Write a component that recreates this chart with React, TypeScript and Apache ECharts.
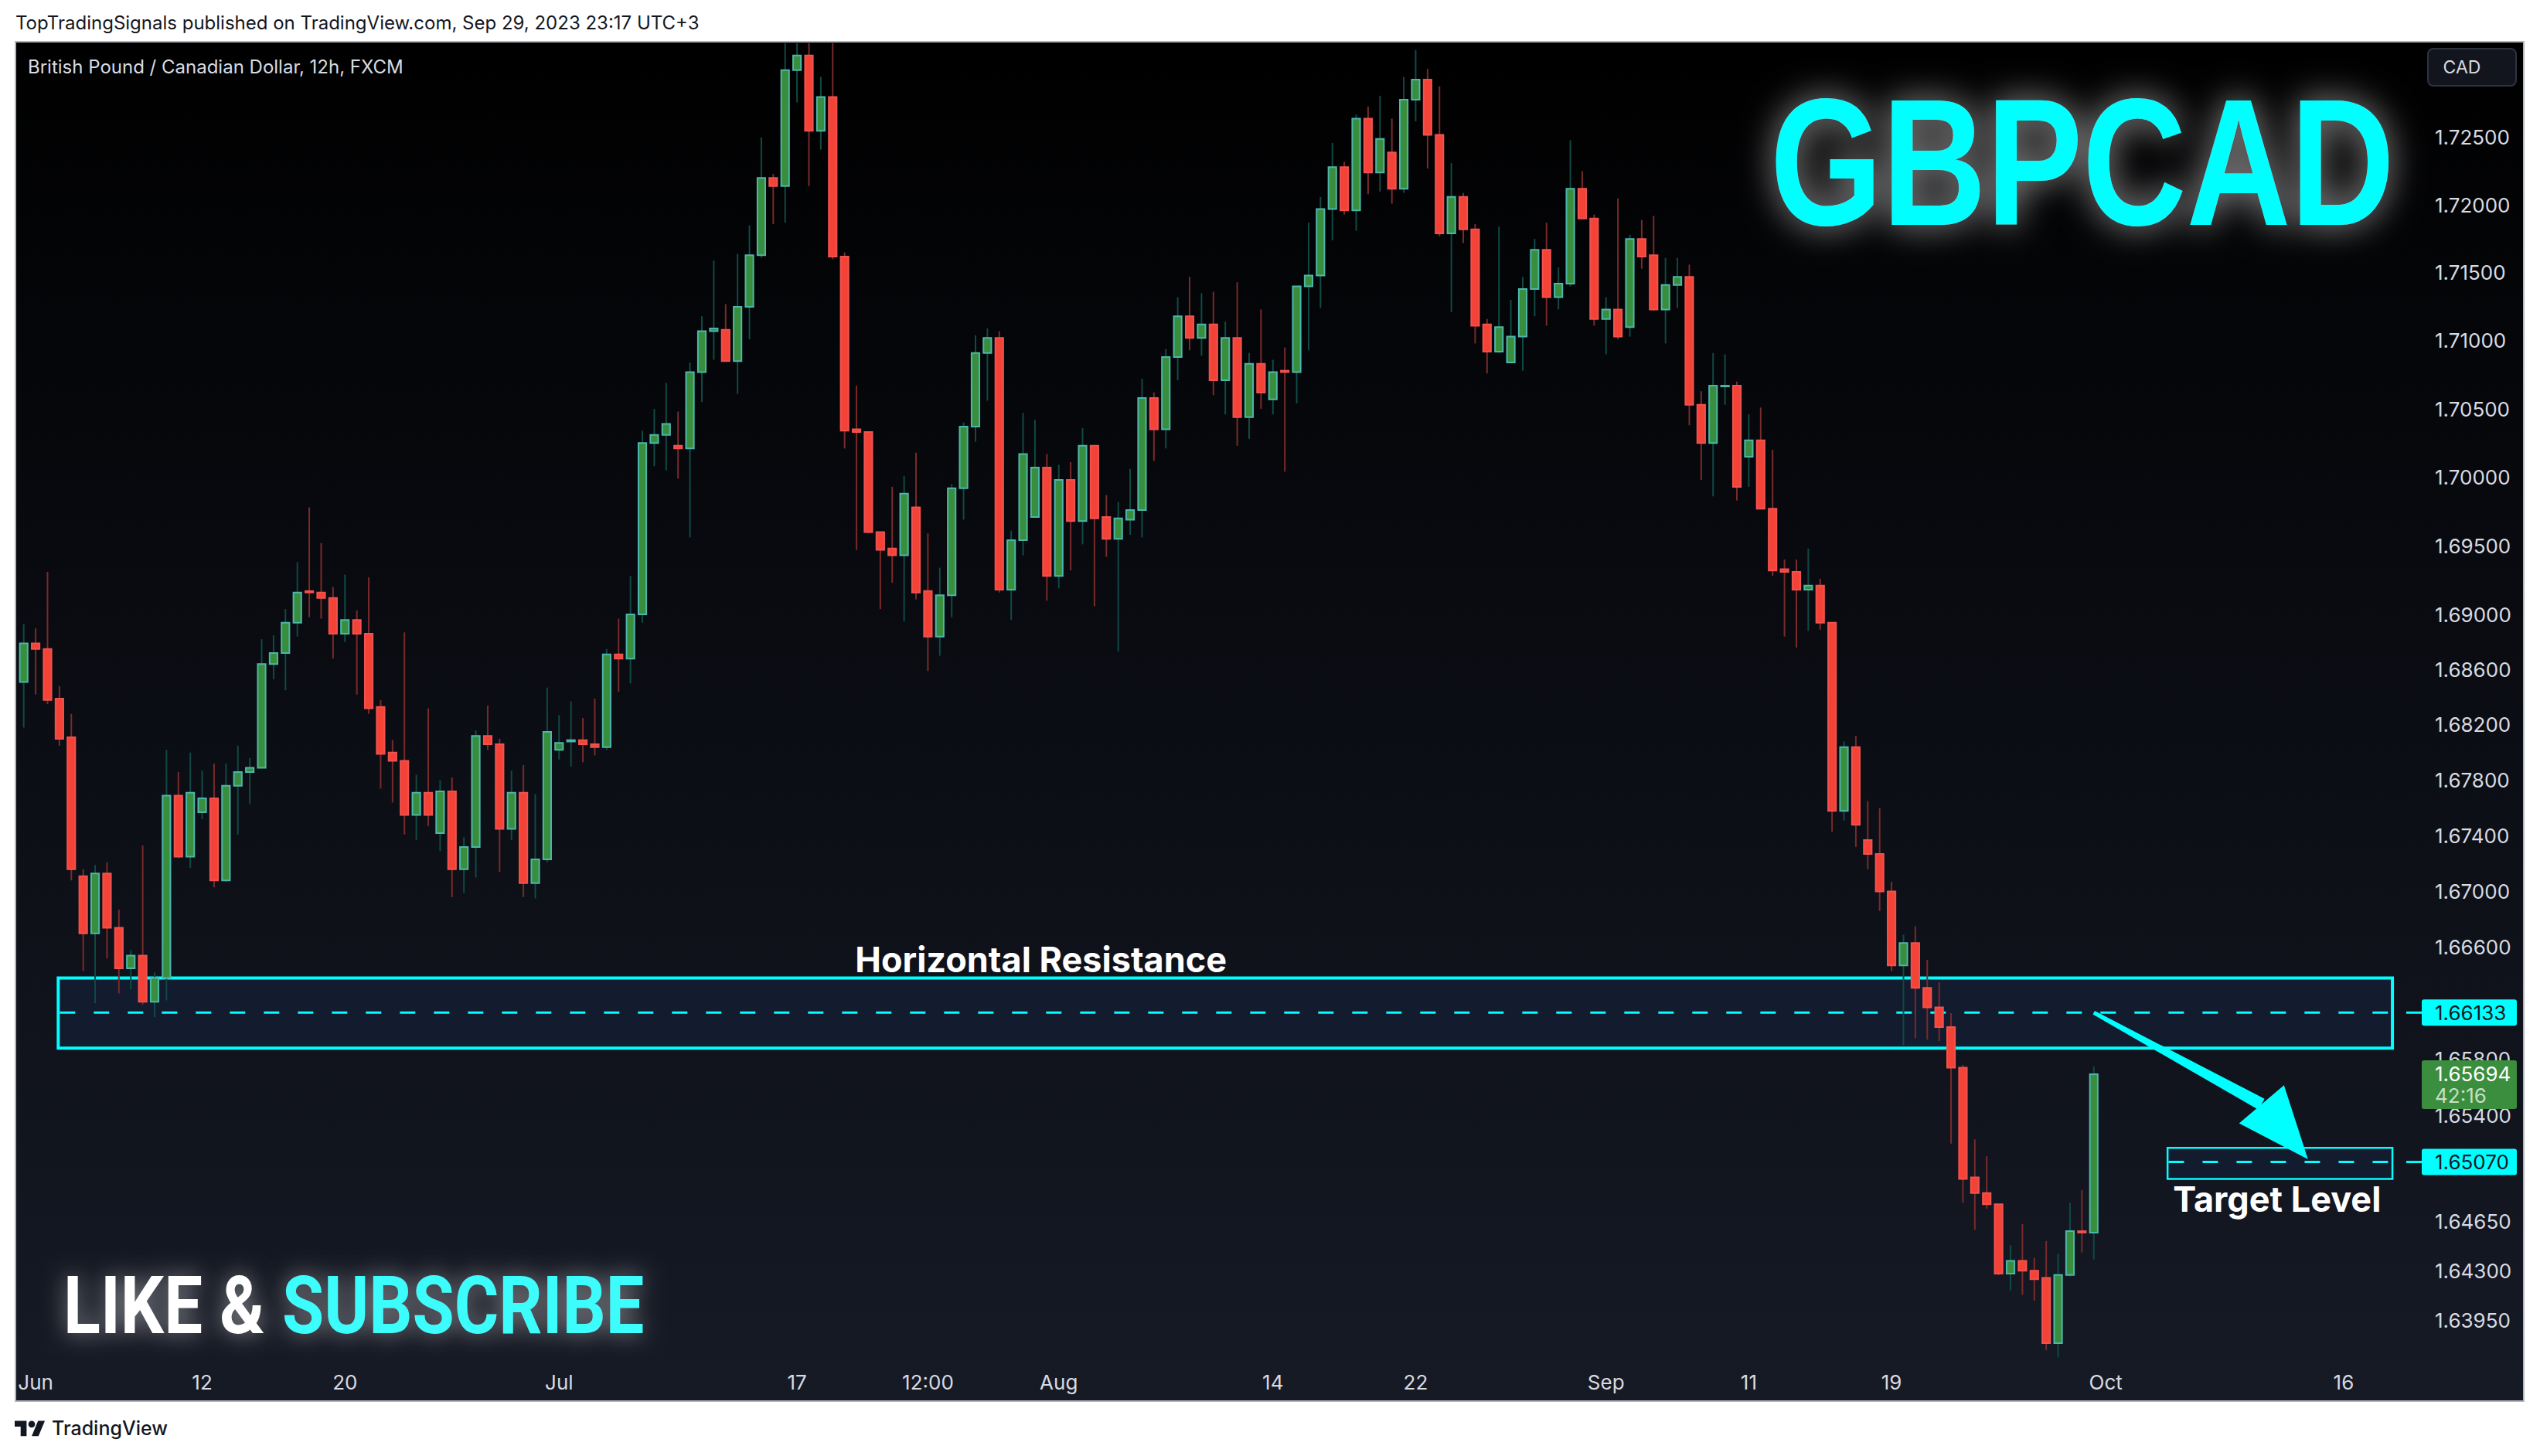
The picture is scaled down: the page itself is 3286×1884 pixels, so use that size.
import React, { useEffect, useRef } from 'react';
import * as echarts from 'echarts';

const W = 3286;
const H = 1884;

// ---- GBPCAD 12h candles, 2023-05-31 12:00 .. 2023-09-29 12:00 ----
const OPEN = [
  1.6851, 1.6879, 1.6875, 1.6839, 1.6811, 1.6711, 1.6670, 1.6713, 1.6674, 1.6645,
  1.6654, 1.6621, 1.6638, 1.6769, 1.6725, 1.6757, 1.6767, 1.6708, 1.6776, 1.6786,
  1.6789, 1.6864, 1.6872, 1.6894, 1.6917, 1.6916, 1.6912, 1.6886, 1.6896, 1.6886,
  1.6833, 1.6800, 1.6794, 1.6755, 1.6771, 1.6742, 1.6772, 1.6716, 1.6732, 1.6812,
  1.6806, 1.6745, 1.6771, 1.6706, 1.6723, 1.6802, 1.6808, 1.6809, 1.6806, 1.6804,
  1.6871, 1.6868, 1.6900, 1.7025, 1.7031, 1.7023, 1.7021, 1.7077, 1.7107, 1.7108,
  1.7085, 1.7125, 1.7163, 1.7220, 1.7214, 1.7300, 1.7311, 1.7255, 1.7280, 1.7162,
  1.7035, 1.7033, 1.6960, 1.6948, 1.6943, 1.6978, 1.6917, 1.6884, 1.6914, 1.6992,
  1.7037, 1.7091, 1.7102, 1.6918, 1.6954, 1.6971, 1.7007, 1.6928, 1.6998, 1.6968,
  1.7023, 1.6971, 1.6955, 1.6969, 1.6976, 1.7058, 1.7035, 1.7088, 1.7118, 1.7102,
  1.7112, 1.7071, 1.7102, 1.7044, 1.7083, 1.7057, 1.7078, 1.7077, 1.7140, 1.7148,
  1.7197, 1.7228, 1.7196, 1.7264, 1.7224, 1.7239, 1.7212, 1.7278, 1.7293, 1.7252,
  1.7179, 1.7206, 1.7182, 1.7112, 1.7092, 1.7084, 1.7103, 1.7138, 1.7167, 1.7132,
  1.7142, 1.7212, 1.7190, 1.7116, 1.7123, 1.7110, 1.7175, 1.7163, 1.7123, 1.7141,
  1.7147, 1.7053, 1.7025, 1.7067, 1.7067, 1.7015, 1.7027, 1.6977, 1.6933, 1.6931,
  1.6918, 1.6921, 1.6894, 1.6758, 1.6804, 1.6737, 1.6727, 1.6700, 1.6647, 1.6663,
  1.6631, 1.6617, 1.6603, 1.6574, 1.6496, 1.6485, 1.6477, 1.6428, 1.6437, 1.6430,
  1.6425, 1.6379, 1.6427, 1.6458, 1.6457,
];
const HIGH = [
  1.6893, 1.6890, 1.6931, 1.6848, 1.6828, 1.6716, 1.6719, 1.6721, 1.6687, 1.6658,
  1.6733, 1.6642, 1.6802, 1.6786, 1.6800, 1.6787, 1.6792, 1.6792, 1.6805, 1.6796,
  1.6882, 1.6885, 1.6904, 1.6938, 1.6978, 1.6952, 1.6920, 1.6929, 1.6903, 1.6927,
  1.6838, 1.6809, 1.6887, 1.6784, 1.6832, 1.6780, 1.6782, 1.6739, 1.6816, 1.6834,
  1.6810, 1.6787, 1.6791, 1.6770, 1.6847, 1.6827, 1.6837, 1.6825, 1.6839, 1.6875,
  1.6897, 1.6928, 1.7034, 1.7050, 1.7069, 1.7048, 1.7084, 1.7118, 1.7159, 1.7127,
  1.7164, 1.7185, 1.7250, 1.7223, 1.7322, 1.7335, 1.7320, 1.7295, 1.7330, 1.7165,
  1.7067, 1.7033, 1.6960, 1.6993, 1.7001, 1.7018, 1.6959, 1.6934, 1.6995, 1.7040,
  1.7104, 1.7109, 1.7107, 1.6961, 1.7047, 1.7042, 1.7017, 1.7009, 1.7011, 1.7036,
  1.7023, 1.6987, 1.6982, 1.7006, 1.7072, 1.7062, 1.7094, 1.7132, 1.7147, 1.7135,
  1.7136, 1.7114, 1.7143, 1.7091, 1.7123, 1.7086, 1.7095, 1.7140, 1.7187, 1.7206,
  1.7246, 1.7232, 1.7267, 1.7273, 1.7281, 1.7264, 1.7295, 1.7315, 1.7301, 1.7288,
  1.7231, 1.7209, 1.7186, 1.7116, 1.7184, 1.7130, 1.7147, 1.7175, 1.7187, 1.7154,
  1.7248, 1.7225, 1.7193, 1.7132, 1.7205, 1.7178, 1.7189, 1.7192, 1.7161, 1.7161,
  1.7156, 1.7063, 1.7091, 1.7090, 1.7070, 1.7046, 1.7051, 1.7020, 1.6940, 1.6940,
  1.6948, 1.6926, 1.6894, 1.6808, 1.6812, 1.6765, 1.6760, 1.6707, 1.6669, 1.6675,
  1.6651, 1.6635, 1.6613, 1.6576, 1.6523, 1.6511, 1.6477, 1.6448, 1.6463, 1.6439,
  1.6451, 1.6442, 1.6478, 1.6487, 1.6575,
];
const LOW = [
  1.6818, 1.6842, 1.6835, 1.6805, 1.6708, 1.6643, 1.6620, 1.6652, 1.6627, 1.6630,
  1.6619, 1.6610, 1.6622, 1.6724, 1.6717, 1.6752, 1.6703, 1.6707, 1.6741, 1.6763,
  1.6789, 1.6853, 1.6845, 1.6884, 1.6898, 1.6897, 1.6868, 1.6880, 1.6842, 1.6828,
  1.6774, 1.6764, 1.6741, 1.6737, 1.6747, 1.6729, 1.6696, 1.6699, 1.6710, 1.6802,
  1.6714, 1.6737, 1.6696, 1.6695, 1.6721, 1.6795, 1.6790, 1.6793, 1.6798, 1.6802,
  1.6844, 1.6850, 1.6894, 1.7008, 1.7005, 1.6999, 1.6956, 1.7055, 1.7086, 1.7085,
  1.7061, 1.7101, 1.7161, 1.7186, 1.7187, 1.7276, 1.7214, 1.7241, 1.7160, 1.7021,
  1.6947, 1.6959, 1.6904, 1.6923, 1.6895, 1.6911, 1.6859, 1.6870, 1.6898, 1.6969,
  1.7026, 1.7056, 1.6916, 1.6896, 1.6943, 1.6971, 1.6910, 1.6919, 1.6932, 1.6951,
  1.6906, 1.6942, 1.6873, 1.6958, 1.6956, 1.7012, 1.7021, 1.7071, 1.7093, 1.7089,
  1.7060, 1.7046, 1.7023, 1.7028, 1.7050, 1.7046, 1.7004, 1.7054, 1.7093, 1.7124,
  1.7174, 1.7193, 1.7181, 1.7208, 1.7210, 1.7201, 1.7209, 1.7262, 1.7227, 1.7177,
  1.7121, 1.7172, 1.7098, 1.7076, 1.7091, 1.7084, 1.7078, 1.7118, 1.7111, 1.7123,
  1.7140, 1.7190, 1.7111, 1.7090, 1.7101, 1.7103, 1.7153, 1.7122, 1.7098, 1.7124,
  1.7038, 1.6998, 1.6986, 1.7053, 1.6983, 1.6993, 1.6977, 1.6928, 1.6884, 1.6876,
  1.6888, 1.6889, 1.6743, 1.6751, 1.6732, 1.6716, 1.6686, 1.6643, 1.6590, 1.6595,
  1.6594, 1.6593, 1.6520, 1.6478, 1.6459, 1.6474, 1.6427, 1.6416, 1.6413, 1.6409,
  1.6374, 1.6369, 1.6426, 1.6443, 1.6438,
];
const CLOSE = [
  1.6879, 1.6875, 1.6838, 1.6810, 1.6716, 1.6670, 1.6713, 1.6674, 1.6645, 1.6654,
  1.6621, 1.6638, 1.6769, 1.6725, 1.6771, 1.6767, 1.6708, 1.6776, 1.6786, 1.6789,
  1.6864, 1.6872, 1.6894, 1.6916, 1.6916, 1.6912, 1.6886, 1.6896, 1.6886, 1.6832,
  1.6799, 1.6794, 1.6755, 1.6771, 1.6755, 1.6772, 1.6716, 1.6732, 1.6812, 1.6806,
  1.6745, 1.6771, 1.6706, 1.6723, 1.6815, 1.6807, 1.6809, 1.6806, 1.6804, 1.6871,
  1.6868, 1.6900, 1.7025, 1.7031, 1.7039, 1.7021, 1.7077, 1.7107, 1.7109, 1.7085,
  1.7125, 1.7163, 1.7220, 1.7214, 1.7300, 1.7311, 1.7255, 1.7280, 1.7162, 1.7034,
  1.7033, 1.6960, 1.6947, 1.6943, 1.6988, 1.6916, 1.6884, 1.6914, 1.6992, 1.7037,
  1.7091, 1.7102, 1.6918, 1.6954, 1.7017, 1.7007, 1.6928, 1.6998, 1.6968, 1.7023,
  1.6970, 1.6955, 1.6970, 1.6976, 1.7058, 1.7035, 1.7088, 1.7118, 1.7102, 1.7112,
  1.7071, 1.7102, 1.7044, 1.7083, 1.7062, 1.7077, 1.7077, 1.7140, 1.7148, 1.7197,
  1.7228, 1.7196, 1.7264, 1.7224, 1.7249, 1.7212, 1.7278, 1.7293, 1.7252, 1.7179,
  1.7206, 1.7182, 1.7111, 1.7092, 1.7110, 1.7103, 1.7138, 1.7167, 1.7132, 1.7142,
  1.7212, 1.7190, 1.7116, 1.7123, 1.7103, 1.7175, 1.7162, 1.7123, 1.7141, 1.7147,
  1.7053, 1.7025, 1.7067, 1.7067, 1.6993, 1.7027, 1.6977, 1.6932, 1.6931, 1.6918,
  1.6921, 1.6894, 1.6758, 1.6804, 1.6748, 1.6727, 1.6700, 1.6647, 1.6663, 1.6631,
  1.6617, 1.6603, 1.6574, 1.6495, 1.6485, 1.6477, 1.6428, 1.6437, 1.6430, 1.6424,
  1.6379, 1.6427, 1.6458, 1.6457, 1.65694,
];

// time axis
const FIRST_DAY = '2023-05-31';
const SLOT_COUNT = 201; // candle slots incl. empty future ones
const X_TICK_TIMES = [
  '2023-06-01 00:00', '2023-06-12 00:00', '2023-06-20 00:00', '2023-07-03 00:00',
  '2023-07-17 00:00', '2023-07-24 12:00', '2023-08-01 00:00', '2023-08-14 00:00',
  '2023-08-22 00:00', '2023-09-01 00:00', '2023-09-11 00:00', '2023-09-19 00:00',
  '2023-10-02 00:00', '2023-10-16 00:00',
];
const X_TICK_LABELS = ['Jun', '12', '20', 'Jul', '17', '12:00', 'Aug', '14', '22', 'Sep', '11', '19', 'Oct', '16'];

// price axis (log scale); 1.662 and 1.650 sit fully under the level tags
const Y_TICKS = [
  1.725, 1.72, 1.715, 1.71, 1.705, 1.7, 1.695, 1.69, 1.686, 1.682, 1.678,
  1.674, 1.67, 1.666, 1.658, 1.654, 1.6465, 1.643, 1.6395,
];
const Y_MIN_PRICE = 1.6367;
const Y_MAX_PRICE = 1.732;
const X_MIN = -0.5;
const X_MAX = 200.2;

// drawings (candle index, price)
const RESISTANCE_ZONE = [2.9, 199.1, 1.6588, 1.6638];
const RESISTANCE_LEVEL = 1.66133;
const TARGET_ZONE = [180.2, 199.1, 1.6495, 1.6517];
const TARGET_LEVEL = 1.6507;
const ARROW_POINTS = [[174.0, 1.66133], [188.1, 1.6548], [192.0, 1.6509]];
const RESISTANCE_TEXT_AT = 85.5;
const TARGET_TEXT_AT = 189.4;
const COUNTDOWN = '42:16';

// styles
const FONT = 'Inter, "Noto Sans", sans-serif';
const CYAN = '#00ffff';
const UP_FILL = '#388e3c';
const UP_BORDER = '#4db6ac';
const UP_WICK = '#0f4a45';
const DOWN_FILL = '#f44336';
const DOWN_BORDER = '#ef5350';
const DOWN_WICK = '#7a2a2a';
const AXIS_TEXT = '#d8dbe2';

echarts.graphic.registerShape(
  'tvlogo',
  echarts.graphic.extendPath('M14 22H7V11H0V4h14v18zM28 22h-8l7.5-18h8L28 22zM24 8a4 4 0 1 1-8 0a4 4 0 1 1 8 0z', {})
);

function buildTimes(count: number): string[] {
  const out: string[] = [];
  const d = new Date(FIRST_DAY + 'T00:00:00Z');
  let first = true;
  while (out.length < count) {
    const wd = d.getUTCDay();
    if (wd !== 0 && wd !== 6) {
      const ds = d.toISOString().slice(0, 10);
      if (!first) out.push(ds + ' 00:00');
      out.push(ds + ' 12:00');
      first = false;
    }
    d.setUTCDate(d.getUTCDate() + 1);
  }
  return out.slice(0, count);
}

function buildOption() {
  const LN = Math.log;
  const times = buildTimes(SLOT_COUNT);
  const xIdx = X_TICK_TIMES.map((t) => times.indexOf(t));
  const xLabelMap: Record<number, string> = {};
  xIdx.forEach((idx, k) => (xLabelMap[idx] = X_TICK_LABELS[k]));
  const candles = OPEN.map((o, i) => [i, LN(o), LN(CLOSE[i]), LN(LOW[i]), LN(HIGH[i])]);
  const lastClose = CLOSE[CLOSE.length - 1];

  const renderCandle = (params: any, api: any) => {
    const i = api.value(0);
    const o = api.value(1);
    const c = api.value(2);
    const l = api.value(3);
    const h = api.value(4);
    const pO = api.coord([i, o]);
    const pC = api.coord([i, c]);
    const pL = api.coord([i, l]);
    const pH = api.coord([i, h]);
    const up = c >= o;
    const bw = api.size([1, 0])[0] * 0.66;
    const x = pO[0];
    const top = Math.min(pO[1], pC[1]);
    const bh = Math.max(Math.abs(pO[1] - pC[1]), 1);
    return {
      type: 'group',
      children: [
        { type: 'line', shape: { x1: x, y1: pH[1], x2: x, y2: pL[1] }, style: { stroke: up ? UP_WICK : DOWN_WICK, lineWidth: 2 } },
        {
          type: 'rect',
          shape: { x: x - bw / 2, y: top, width: bw, height: bh },
          style: { fill: up ? UP_FILL : DOWN_FILL, stroke: up ? UP_BORDER : DOWN_BORDER, lineWidth: 2 },
        },
      ],
    };
  };

  const zoneEls = (api: any, zone: number[], level: number, border: number) => {
    const [x0, x1, lo, hi] = zone;
    const a = api.coord([x0, LN(hi)]);
    const b = api.coord([x1, LN(lo)]);
    const m = api.coord([x0, LN(level)]);
    return [
      { type: 'rect', shape: { x: a[0], y: a[1], width: b[0] - a[0], height: b[1] - a[1] }, style: { fill: '#131b2e', stroke: CYAN, lineWidth: border } },
      { type: 'line', shape: { x1: a[0] + border / 2, y1: m[1], x2: b[0] - 2, y2: m[1] }, style: { stroke: CYAN, lineWidth: 3, lineDash: [20, 24] } },
    ];
  };

  const renderBelow = (params: any, api: any) => ({
    type: 'group',
    children: [...zoneEls(api, RESISTANCE_ZONE, RESISTANCE_LEVEL, 4), ...zoneEls(api, TARGET_ZONE, TARGET_LEVEL, 2.5)],
  });

  const renderAbove = (params: any, api: any) => {
    const cs = params.coordSys;
    const right = cs.x + cs.width;
    const pts = ARROW_POINTS.map(([i, p]) => api.coord([i, LN(p)]));
    const [s, bse, tip] = pts;
    const dx = bse[0] - s[0];
    const dy = bse[1] - s[1];
    const len = Math.hypot(dx, dy);
    const nx = -dy / len;
    const ny = dx / len;
    const w0 = 2.5;
    const w1 = 8;
    const hx = tip[0] - bse[0];
    const hy = tip[1] - bse[1];
    const hl = Math.hypot(hx, hy);
    const px = -hy / hl;
    const py = hx / hl;
    const hw = 38;
    const resTop = api.coord([RESISTANCE_TEXT_AT, LN(RESISTANCE_ZONE[3])]);
    const tgtBot = api.coord([TARGET_TEXT_AT, LN(TARGET_ZONE[2])]);
    const children: any[] = [
      {
        type: 'polygon',
        shape: { points: [[s[0] + nx * w0, s[1] + ny * w0], [bse[0] + nx * w1, bse[1] + ny * w1], [bse[0] - nx * w1, bse[1] - ny * w1], [s[0] - nx * w0, s[1] - ny * w0]] },
        style: { fill: CYAN },
      },
      {
        type: 'polygon',
        shape: { points: [[tip[0], tip[1]], [bse[0] + px * hw, bse[1] + py * hw], [bse[0] - px * hw, bse[1] - py * hw]] },
        style: { fill: CYAN },
      },
      {
        type: 'text',
        x: resTop[0],
        y: resTop[1] - 24,
        style: { text: 'Horizontal Resistance', fill: '#ffffff', fontSize: 45, fontWeight: 700, fontFamily: FONT, align: 'center', verticalAlign: 'middle' },
      },
      {
        type: 'text',
        x: tgtBot[0],
        y: tgtBot[1] + 26,
        style: { text: 'Target Level', fill: '#ffffff', fontSize: 45, fontWeight: 700, fontFamily: FONT, align: 'center', verticalAlign: 'middle' },
      },
    ];
    [RESISTANCE_LEVEL, TARGET_LEVEL].forEach((lv) => {
      const y = api.coord([0, LN(lv)])[1];
      children.push(
        { type: 'line', shape: { x1: right + 1, y1: y, x2: right + 21, y2: y }, style: { stroke: CYAN, lineWidth: 3 } },
        { type: 'rect', shape: { x: right + 21, y: y - 17, width: 123, height: 34, r: 3 }, style: { fill: CYAN } },
        { type: 'text', x: right + 38, y, style: { text: lv.toFixed(5), fill: '#131722', fontSize: 26, fontFamily: FONT, align: 'left', verticalAlign: 'middle' } }
      );
    });
    const yc = api.coord([0, LN(lastClose)])[1];
    children.push(
      { type: 'rect', shape: { x: right + 21, y: yc - 18, width: 123, height: 63, r: 3 }, style: { fill: '#3a8e3e' } },
      { type: 'text', x: right + 38, y: yc, style: { text: lastClose.toFixed(5), fill: '#ffffff', fontSize: 26, fontFamily: FONT, align: 'left', verticalAlign: 'middle' } },
      { type: 'text', x: right + 38, y: yc + 28, style: { text: COUNTDOWN, fill: 'rgba(255,255,255,0.72)', fontSize: 26, fontFamily: FONT, align: 'left', verticalAlign: 'middle' } }
    );
    return { type: 'group', children };
  };

  return {
    animation: false,
    backgroundColor: '#ffffff',
    grid: { left: 23, top: 56, width: 3089, height: 1704, containLabel: false, outerBoundsMode: 'none' },
    xAxis: {
      type: 'value',
      min: X_MIN,
      max: X_MAX,
      axisLine: { show: false },
      axisTick: { show: false },
      splitLine: { show: false },
      axisLabel: {
        customValues: xIdx,
        formatter: (v: number) => xLabelMap[Math.round(v)] ?? '',
        color: AXIS_TEXT,
        fontSize: 26,
        fontFamily: FONT,
        margin: 15,
        verticalAlign: 'top',
      },
    },
    yAxis: {
      type: 'value',
      position: 'right',
      min: LN(Y_MIN_PRICE),
      max: LN(Y_MAX_PRICE),
      axisLine: { show: false },
      axisTick: { show: false },
      splitLine: { show: false },
      axisLabel: {
        customValues: Y_TICKS.map(LN),
        formatter: (v: number) => Math.exp(v).toFixed(5),
        color: AXIS_TEXT,
        fontSize: 26,
        fontFamily: FONT,
        margin: 38,
        align: 'left',
      },
    },
    graphic: [
      {
        type: 'rect',
        z: -10,
        silent: true,
        shape: { x: 20, y: 54, width: 3245, height: 1759 },
        style: {
          fill: { type: 'linear', x: 0, y: 0, x2: 0, y2: 1, colorStops: [
            { offset: 0, color: '#000000' },
            { offset: 0.45, color: '#0a0c12' },
            { offset: 1, color: '#161a25' },
          ] },
          stroke: '#b3b6bf',
          lineWidth: 2,
        },
      },
      {
        type: 'text', x: 20, y: 29, z: 10,
        style: { text: 'TopTradingSignals published on TradingView.com, Sep 29, 2023 23:17 UTC+3', fill: '#131722', fontSize: 24, fontFamily: FONT, align: 'left', verticalAlign: 'middle' },
      },
      {
        type: 'text', x: 36, y: 86, z: 10,
        style: { text: 'British Pound / Canadian Dollar, 12h, FXCM', fill: AXIS_TEXT, fontSize: 24, fontFamily: FONT, align: 'left', verticalAlign: 'middle' },
      },
      {
        type: 'rect', z: 10,
        shape: { x: 3141, y: 63, width: 114, height: 48, r: 7 },
        style: { fill: '#12151d', stroke: '#2f333e', lineWidth: 2 },
      },
      {
        type: 'text', x: 3185, y: 87, z: 11,
        style: { text: 'CAD', fill: AXIS_TEXT, fontSize: 23, fontFamily: FONT, align: 'center', verticalAlign: 'middle' },
      },
      {
        type: 'text', x: 2694, y: 210, z: 10, scaleX: 0.8,
        style: {
          text: 'GBPCAD', fill: CYAN, fontSize: 233, fontWeight: 'bold', fontFamily: '"Liberation Sans", Arial, sans-serif',
          align: 'center', verticalAlign: 'middle', textShadowColor: 'rgba(255,255,255,0.6)', textShadowBlur: 45,
        },
      },
      {
        type: 'text', x: 82, y: 1690, z: 10, scaleX: 0.86,
        style: {
          text: 'LIKE &', fill: '#ffffff', fontSize: 103, fontWeight: 'bold', fontFamily: 'Roboto, sans-serif',
          align: 'left', verticalAlign: 'middle', textShadowColor: 'rgba(255,255,255,0.5)', textShadowBlur: 30,
        },
      },
      {
        type: 'text', x: 365, y: 1690, z: 10, scaleX: 0.855,
        style: {
          text: 'SUBSCRIBE', fill: '#3dfcfc', fontSize: 103, fontWeight: 'bold', fontFamily: 'Roboto, sans-serif',
          align: 'left', verticalAlign: 'middle', textShadowColor: 'rgba(255,255,255,0.5)', textShadowBlur: 30,
        },
      },
      { type: 'tvlogo', x: 19, y: 1834, scaleX: 1.1, scaleY: 1.1, z: 10, style: { fill: '#131722' } },
      {
        type: 'text', x: 67, y: 1848, z: 10,
        style: { text: 'TradingView', fill: '#131722', fontSize: 25, fontWeight: 500, fontFamily: FONT, align: 'left', verticalAlign: 'middle' },
      },
    ],
    series: [
      {
        type: 'custom',
        name: 'zones',
        z: 1,
        silent: true,
        clip: false,
        data: [[RESISTANCE_ZONE[0], LN(RESISTANCE_LEVEL)]],
        renderItem: renderBelow,
      },
      {
        type: 'custom',
        name: 'GBPCAD',
        z: 2,
        silent: true,
        clip: true,
        encode: { x: 0, y: [1, 2, 3, 4] },
        data: candles,
        renderItem: renderCandle,
      },
      {
        type: 'custom',
        name: 'drawings',
        z: 4,
        silent: true,
        clip: false,
        data: [[ARROW_POINTS[0][0], LN(ARROW_POINTS[0][1])]],
        renderItem: renderAbove,
      },
    ],
  };
}

export default function App() {
  const ref = useRef<HTMLDivElement>(null);
  useEffect(() => {
    if (!ref.current) return;
    const chart = echarts.init(ref.current, null, { renderer: 'svg', width: W, height: H });
    chart.setOption(buildOption() as any);
    return () => chart.dispose();
  }, []);
  return <div ref={ref} style={{ position: 'absolute', left: 0, top: 0, width: W, height: H }} />;
}
